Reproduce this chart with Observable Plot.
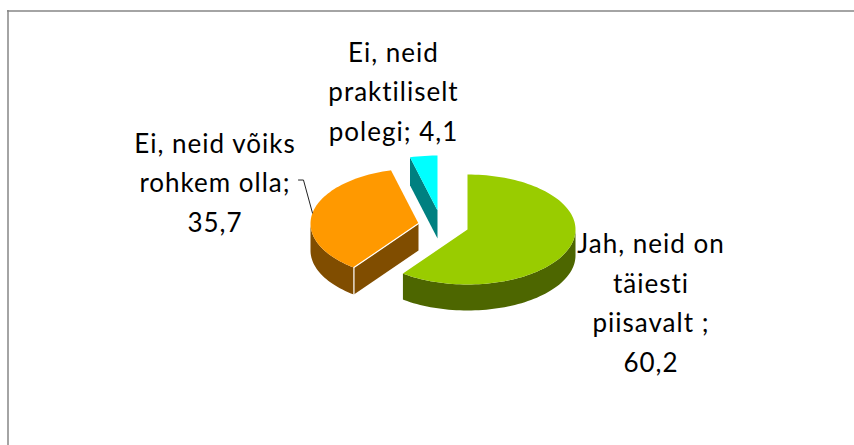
<!DOCTYPE html>
<html><head><meta charset="utf-8">
<style>html,body{margin:0;padding:0;background:#fff}svg{display:block}</style>
<script src="https://cdn.jsdelivr.net/npm/d3@7"></script>
<script src="https://cdn.jsdelivr.net/npm/@observablehq/plot@0.6"></script>
</head><body><script>
const categories = ["Jah, neid on täiesti piisavalt", "Ei, neid võiks rohkem olla", "Ei, neid praktiliselt polegi"];
const values = [60.2, 35.7, 4.1];
const labelTexts = ["Jah, neid on\ntäiesti\npiisavalt ;\n60,2", "Ei, neid võiks\nrohkem olla;\n35,7", "Ei, neid\npraktiliselt\npolegi; 4,1"];
const topColors = ["#99cc00", "#ff9900", "#00ffff"];
const wallColors = ["#4d6600", "#804d00", "#008080"];
const centersX = [467, 418, 437];
const centersY = [229, 223, 210];
const depths = [26, 27, 28];
const labelX = [650.5, 214.5, 393];
const labelY = [299.5, 179, 88];

const W = 854, H = 445, RX = 108, RY = 55;
const total = d3.sum(values);
const ends = d3.cumsum(values).map(v => v / total * 360);
const starts = [0, ...ends.slice(0, -1)];
const rad = d => d * Math.PI / 180;
const rim = (i, a, dy = 0) => ({
  x: centersX[i] + RX * Math.sin(rad(a)),
  y: centersY[i] - RY * Math.cos(rad(a)) + dy
});
const arcAngles = (a, b) => [...d3.range(a, b, 2), b];

const faces = [];
const addFace = (id, fill, pts) => pts.forEach(p => faces.push({...p, id, fill}));
values.forEach((_, i) => {
  const a = starts[i], b = ends[i], d = depths[i];
  const apex = {x: centersX[i], y: centersY[i]};
  const wa = Math.max(a, 90), wb = Math.min(b, 270);
  if (wb > wa) {
    const arc = arcAngles(wa, wb);
    addFace(`outer${i}`, wallColors[i], [...arc.map(t => rim(i, t)), ...arc.slice().reverse().map(t => rim(i, t, d))]);
  }
  if (Math.sin(rad(a)) < -1e-6) {
    addFace(`cut${i}`, wallColors[i], [apex, rim(i, a), rim(i, a, d), {x: apex.x, y: apex.y + d}]);
  }
  if (Math.sin(rad(b)) > 1e-6) {
    addFace(`cutb${i}`, wallColors[i], [apex, rim(i, b), rim(i, b, d), {x: apex.x, y: apex.y + d}]);
  }
  addFace(`top${i}`, topColors[i], [apex, ...arcAngles(a, b).map(t => rim(i, t))]);
});

// light seam between the orange slice's outer wall and its cut wall
const seam = [
  {x: centersX[1], y: centersY[1]},
  rim(1, starts[1]),
  rim(1, starts[1], depths[1])
];

// leader from the orange label to the middle of its arc
const leaderEnd = rim(1, (starts[1] + ends[1]) / 2);
const leader = [
  {x: leaderEnd.x - 14, y: leaderEnd.y - 33},
  {x: leaderEnd.x - 9, y: leaderEnd.y - 33},
  leaderEnd
];

const labels = labelTexts.map((text, i) => ({text, x: labelX[i], y: labelY[i]}));

const plot = Plot.plot({
  width: W, height: H, margin: 0,
  style: {background: "#fff", letterSpacing: "1px", fontVariantLigatures: "none"},
  x: {domain: [0, W], range: [0, W], axis: null},
  y: {domain: [0, H], range: [0, H], axis: null},
  marks: [
    Plot.ruleX([7.5], {y1: 10, y2: H, stroke: "#868686", strokeWidth: 1.5}),
    Plot.ruleY([10.5], {x1: 7, x2: W, stroke: "#868686", strokeWidth: 1.5}),
    Plot.line(faces, {x: "x", y: "y", z: "id", fill: "fill", stroke: "none", curve: "linear"}),
    Plot.line(seam, {x: "x", y: "y", stroke: "#fff", strokeWidth: 1.2, curve: "linear"}),
    Plot.line(leader, {x: "x", y: "y", stroke: "#222", strokeWidth: 1, curve: "linear"}),
    Plot.text(labels, {x: "x", y: "y", text: "text", fontFamily: "Lato", fontSize: 26, lineHeight: 1.52, fill: "#000", textAnchor: "middle"})
  ]
});
document.body.appendChild(plot);
</script></body></html>
